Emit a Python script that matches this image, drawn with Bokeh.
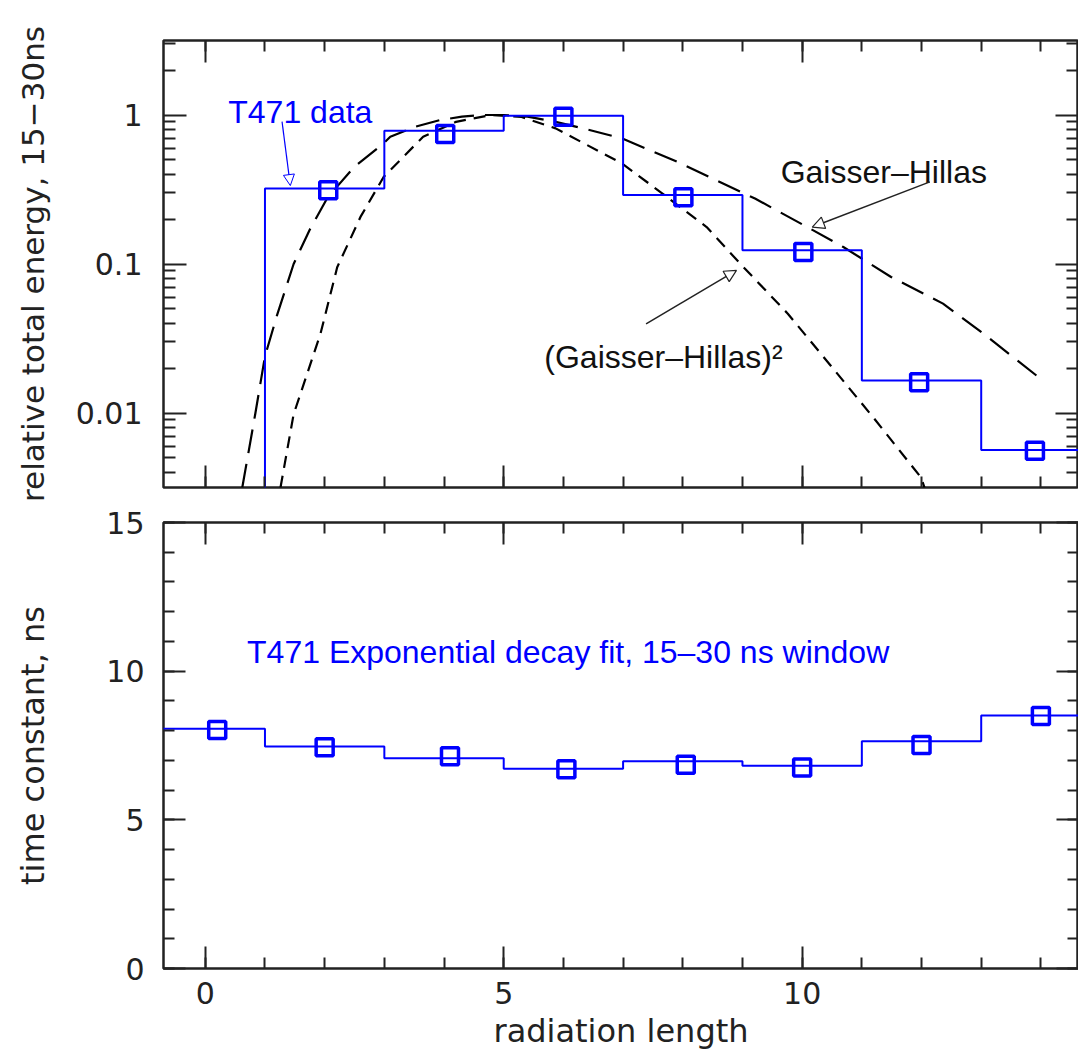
from bokeh.plotting import figure
from bokeh.layouts import column
from bokeh.models import (Range1d, FixedTicker, LinearAxis, LogAxis, Arrow,
                          NormalHead, CustomJSTickFormatter, Label)
from bokeh.embed import file_html
from bokeh.resources import INLINE

# ---------------- data ----------------
# top panel: relative total energy (15-30 ns), histogram levels per bin
top_edges = [1, 1, 3, 5, 7, 9, 11, 13, 15]
top_levels = [1e-4, 0.321, 0.785, 0.99, 0.29, 0.1236, 0.01652, 0.00565, 0.00565]
top_pts_x = [2.06, 4.02, 6.0, 8.01, 10.02, 11.96, 13.9]
top_pts_y = [0.313, 0.745, 0.974, 0.28, 0.1205, 0.0161, 0.00558]

# Gaisser-Hillas curve (long dashes)
gh_x = [0.62, 0.84, 1.0, 1.2, 1.48, 1.75, 2.05, 2.5, 2.98, 3.1, 3.5, 3.94, 4.3,
        4.66, 5.0, 5.4, 5.87, 6.4, 6.98, 7.91, 9.21, 10.13, 10.69, 11.49,
        12.36, 13.04, 13.96]
gh_y = [0.00316, 0.01, 0.024, 0.045, 0.1, 0.17, 0.28, 0.45, 0.64, 0.715, 0.83,
        0.926, 0.975, 1.0, 1.0, 0.975, 0.90, 0.80, 0.697, 0.485, 0.275, 0.173,
        0.130, 0.0818, 0.0542, 0.034, 0.0174]

# (Gaisser-Hillas)^2 curve (short dashes)
gh2_x = [1.26, 1.48, 1.93, 2.21, 2.6, 2.99, 3.65, 4.2, 4.8, 5.3, 5.87, 6.98,
         7.66, 8.40, 8.96, 9.76, 10.50, 11.19, 11.99, 12.05]
gh2_y = [0.00316, 0.0098, 0.034, 0.095, 0.207, 0.385, 0.715, 0.9, 1.0, 0.97,
         0.813, 0.473, 0.297, 0.177, 0.1007, 0.0464, 0.0203, 0.00935, 0.0037,
         0.00316]

# bottom panel: time constant (ns)
bot_edges = [-1, 1, 3, 5, 7, 9, 11, 13, 15]
bot_levels = [8.06, 7.47, 7.07, 6.72, 6.97, 6.82, 7.64, 8.51, 8.51]
bot_pts_x = [0.2, 2.0, 4.1, 6.05, 8.05, 10.0, 12.0, 14.0]
bot_pts_y = [8.02, 7.44, 7.14, 6.70, 6.85, 6.76, 7.52, 8.49]

x_major = [0, 5, 10]
x_minor = list(range(-1, 16))
log_major = [0.001, 0.01, 0.1, 1, 10]
log_minor = [k * 10.0 ** e for e in (-3, -2, -1, 0) for k in range(2, 10)]
lin_major = [0, 5, 10, 15]
lin_minor = list(range(0, 16))

# ---------------- styling ----------------
BLUE = "#0000ff"
AXC = "#222222"
AXFONT = "DejaVu Sans"
TXFONT = "Liberation Sans"
TXSIZE = "32px"
W = 1078

blankfmt = CustomJSTickFormatter(code="return '';")


def style_axis(ax, labels=True, major_in=22, minor_in=11):
    ax.axis_line_color = None
    ax.major_tick_in = major_in
    ax.major_tick_out = 0
    ax.minor_tick_in = minor_in
    ax.minor_tick_out = 0
    ax.major_tick_line_width = 2
    ax.minor_tick_line_width = 2
    ax.major_tick_line_color = AXC
    ax.minor_tick_line_color = AXC
    ax.major_label_text_font = AXFONT
    ax.major_label_text_color = AXC
    if labels:
        ax.major_label_text_font_size = "30px"
    else:
        ax.formatter = blankfmt
        ax.major_label_text_font_size = "1px"
        ax.major_label_standoff = 0
    ax.axis_label_text_font = AXFONT
    ax.axis_label_text_font_style = "normal"
    ax.axis_label_text_font_size = "32px"
    ax.axis_label_text_color = AXC


x_range = Range1d(-0.70, 14.63)

# ---------------- top panel ----------------
p1 = figure(width=W, height=504, x_range=x_range,
            y_range=Range1d(10 ** -2.5, 10 ** 0.5), y_axis_type="log",
            output_backend="svg", toolbar_location=None,
            min_border_left=163, min_border_right=0, min_border_top=40,
            min_border_bottom=17)
p1.grid.visible = False
p1.outline_line_color = AXC
p1.outline_line_width = 2.5
p1.background_fill_color = "white"
p1.border_fill_color = "white"

xt = FixedTicker(ticks=x_major, minor_ticks=x_minor)
lt = FixedTicker(ticks=log_major, minor_ticks=log_minor)
logfmt = CustomJSTickFormatter(code="return String(Math.round(tick*1000)/1000);")

p1.xaxis.ticker = xt
style_axis(p1.xaxis[0], labels=False)
p1.yaxis.ticker = lt
style_axis(p1.yaxis[0], labels=True, major_in=23, minor_in=12)
p1.yaxis.formatter = logfmt
p1.yaxis.major_label_standoff = 21
p1.yaxis.axis_label = "relative total energy, 15\u221230ns"
p1.yaxis.axis_label_text_font_size = "31px"
p1.yaxis.axis_label_standoff = 22

ax_top1 = LinearAxis(ticker=xt)
style_axis(ax_top1, labels=False)
p1.add_layout(ax_top1, "above")
ax_right1 = LogAxis(ticker=lt)
style_axis(ax_right1, labels=False, major_in=23, minor_in=12)
p1.add_layout(ax_right1, "right")

p1.line(gh_x, gh_y, line_color="black", line_width=2.2, line_dash="24 11")
p1.line(gh2_x, gh2_y, line_color="black", line_width=2.2, line_dash="12 8")
p1.step(top_edges, top_levels, mode="after", line_color=BLUE, line_width=2)
p1.scatter(top_pts_x, top_pts_y, marker="square", size=17, fill_color=None,
           line_color=BLUE, line_width=3.5)

p1.add_layout(Label(x=0.385, y=1.047, text="T471 data", text_font=TXFONT,
                    text_font_size=TXSIZE, text_color=BLUE,
                    text_baseline="alphabetic"))
p1.add_layout(Label(x=9.64, y=0.414, text="Gaisser\u2013Hillas", text_font=TXFONT,
                    text_font_size=TXSIZE, text_color="#111111",
                    text_baseline="alphabetic"))
p1.add_layout(Label(x=5.68, y=0.0236, text="(Gaisser\u2013Hillas)\u00b2",
                    text_font=TXFONT, text_font_size=TXSIZE,
                    text_color="#111111", text_baseline="alphabetic"))

p1.add_layout(Arrow(x_start=1.286, y_start=0.902, x_end=1.425, y_end=0.336,
                    line_color=BLUE, line_width=1.2,
                    end=NormalHead(size=11, fill_color="white",
                                   line_color=BLUE, line_width=1)))
p1.add_layout(Arrow(x_start=12.14, y_start=0.356, x_end=10.17, y_end=0.177,
                    line_color="#222222", line_width=1.5,
                    end=NormalHead(size=12, fill_color="white",
                                   line_color="#222222", line_width=1.2)))
p1.add_layout(Arrow(x_start=7.385, y_start=0.0397, x_end=8.90, y_end=0.0907,
                    line_color="#222222", line_width=1.5,
                    end=NormalHead(size=12, fill_color="white",
                                   line_color="#222222", line_width=1.2)))

# ---------------- bottom panel ----------------
p2 = figure(width=W, height=555, x_range=x_range, y_range=Range1d(0, 15),
            output_backend="svg", toolbar_location=None,
            min_border_left=163, min_border_right=0, min_border_top=18,
            min_border_bottom=91)
p2.grid.visible = False
p2.outline_line_color = AXC
p2.outline_line_width = 2.5
p2.background_fill_color = "white"
p2.border_fill_color = "white"

yt = FixedTicker(ticks=lin_major, minor_ticks=lin_minor)
p2.xaxis.ticker = xt
style_axis(p2.xaxis[0], labels=True)
p2.xaxis.major_label_standoff = 13
p2.xaxis.axis_label = "radiation length"
p2.xaxis.axis_label_standoff = 5
p2.yaxis.ticker = yt
style_axis(p2.yaxis[0], labels=True)
p2.yaxis.major_label_standoff = 19
p2.yaxis.axis_label = "time constant, ns"
p2.yaxis.axis_label_standoff = 51

ax_top2 = LinearAxis(ticker=xt)
style_axis(ax_top2, labels=False)
p2.add_layout(ax_top2, "above")
ax_right2 = LinearAxis(ticker=yt)
style_axis(ax_right2, labels=False)
p2.add_layout(ax_right2, "right")

p2.step(bot_edges, bot_levels, mode="after", line_color=BLUE, line_width=2)
p2.scatter(bot_pts_x, bot_pts_y, marker="square", size=17, fill_color=None,
           line_color=BLUE, line_width=3.5)
p2.add_layout(Label(x=0.70, y=10.65,
                    text="T471 Exponential decay fit, 15\u201330 ns window",
                    text_font=TXFONT, text_font_size=TXSIZE, text_color=BLUE,
                    text_baseline="alphabetic"))

layout = column(p1, p2, spacing=0)
open("out.html", "w").write(file_html(layout, INLINE))
